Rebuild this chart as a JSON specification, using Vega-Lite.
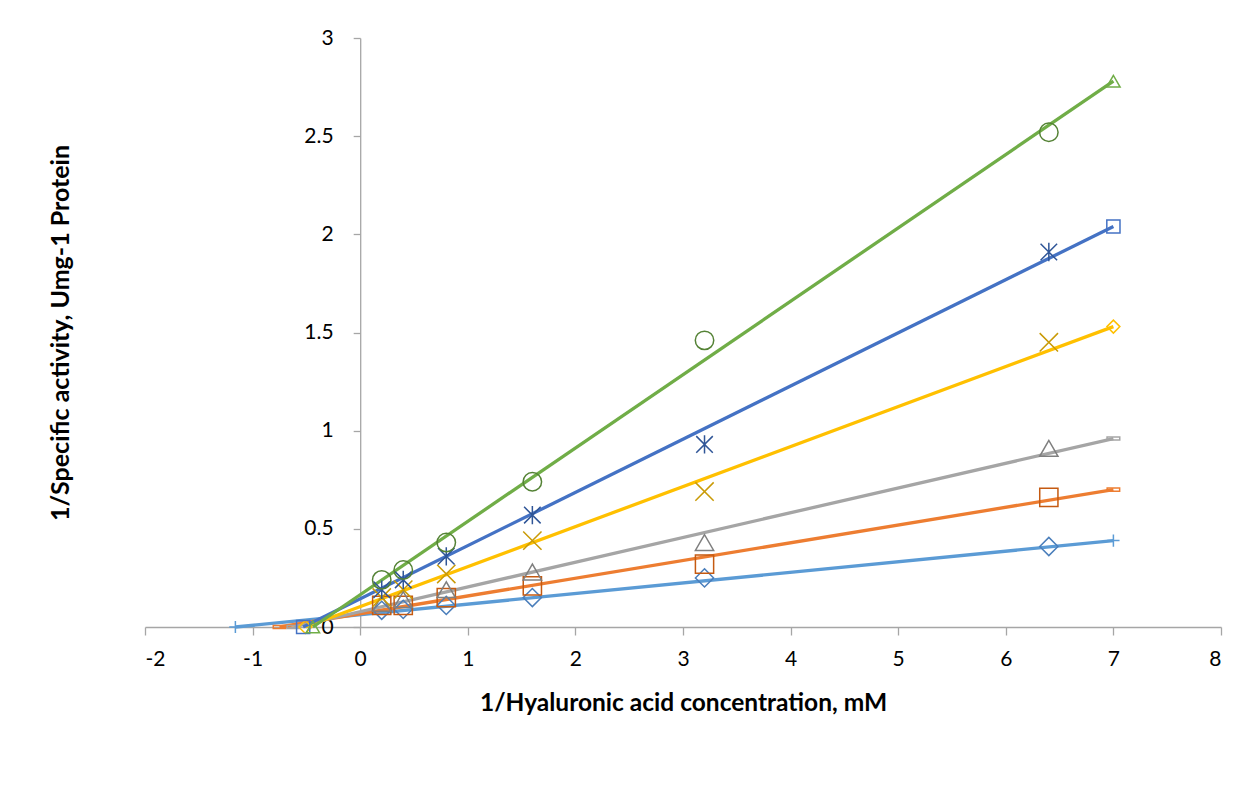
{
  "$schema": "https://vega.github.io/schema/vega-lite/v6.json",
  "autosize": "none",
  "width": 1076,
  "height": 589,
  "padding": {"left": 145, "top": 38, "right": 25, "bottom": 184},
  "background": "white",
  "config": {
    "view": {"stroke": null},
    "font": "Lato",
    "axis": {"labelFont": "Lato", "titleFont": "Lato", "labelColor": "#000000", "titleColor": "#000000"}
  },
  "datasets": {
    "points": [
      {"series": "s1", "x": 0.2, "y": 0.085}, {"series": "s1", "x": 0.4, "y": 0.09}, {"series": "s1", "x": 0.8, "y": 0.11}, {"series": "s1", "x": 1.6, "y": 0.15}, {"series": "s1", "x": 3.2, "y": 0.25}, {"series": "s1", "x": 6.4, "y": 0.41},
      {"series": "s2", "x": 0.2, "y": 0.11}, {"series": "s2", "x": 0.4, "y": 0.11}, {"series": "s2", "x": 0.8, "y": 0.15}, {"series": "s2", "x": 1.6, "y": 0.21}, {"series": "s2", "x": 3.2, "y": 0.32}, {"series": "s2", "x": 6.4, "y": 0.66},
      {"series": "s3", "x": 0.2, "y": 0.12}, {"series": "s3", "x": 0.4, "y": 0.14}, {"series": "s3", "x": 0.8, "y": 0.19}, {"series": "s3", "x": 1.6, "y": 0.28}, {"series": "s3", "x": 3.2, "y": 0.43}, {"series": "s3", "x": 6.4, "y": 0.91},
      {"series": "s4", "x": 0.2, "y": 0.15}, {"series": "s4", "x": 0.4, "y": 0.19}, {"series": "s4", "x": 0.8, "y": 0.27}, {"series": "s4", "x": 1.6, "y": 0.44}, {"series": "s4", "x": 3.2, "y": 0.69}, {"series": "s4", "x": 6.4, "y": 1.45},
      {"series": "s5", "x": 0.2, "y": 0.19}, {"series": "s5", "x": 0.4, "y": 0.24}, {"series": "s5", "x": 0.8, "y": 0.36}, {"series": "s5", "x": 1.6, "y": 0.57}, {"series": "s5", "x": 3.2, "y": 0.93}, {"series": "s5", "x": 6.4, "y": 1.91},
      {"series": "s6", "x": 0.2, "y": 0.24}, {"series": "s6", "x": 0.4, "y": 0.29}, {"series": "s6", "x": 0.8, "y": 0.43}, {"series": "s6", "x": 1.6, "y": 0.74}, {"series": "s6", "x": 3.2, "y": 1.46}, {"series": "s6", "x": 6.4, "y": 2.52}
    ],
    "lines": [
      {"series": "s1", "x": -1.16, "y": 0}, {"series": "s1", "x": 7, "y": 0.44},
      {"series": "s2", "x": -0.75, "y": 0}, {"series": "s2", "x": 7, "y": 0.70},
      {"series": "s3", "x": -0.62, "y": 0}, {"series": "s3", "x": 7, "y": 0.96},
      {"series": "s4", "x": -0.51, "y": 0}, {"series": "s4", "x": 7, "y": 1.53},
      {"series": "s5", "x": -0.53, "y": 0}, {"series": "s5", "x": 7, "y": 2.04},
      {"series": "s6", "x": -0.44, "y": 0}, {"series": "s6", "x": 7, "y": 2.78}
    ]
  },
  "encoding": {
    "x": {
      "field": "x", "type": "quantitative",
      "scale": {"domain": [-2, 8], "nice": false, "zero": false},
      "axis": {
        "values": [-2, -1, 0, 1, 2, 3, 4, 5, 6, 7, 8],
        "labelExpr": "datum.value < 0 ? '-' + abs(datum.value) : '' + datum.value",
        "grid": false,
        "domainColor": "#A6A6A6", "domainWidth": 1.3,
        "tickColor": "#A6A6A6", "tickWidth": 1.3, "tickSize": 8,
        "labelFontSize": 21, "labelPadding": 13,
        "title": "1/Hyaluronic acid concentration, mM",
        "titleFontSize": 24.5, "titleFontWeight": "bold",
        "titleBaseline": "middle", "titleY": 76, "titleX": 538
      }
    },
    "y": {
      "field": "y", "type": "quantitative",
      "scale": {"domain": [0, 3], "nice": false},
      "axis": {
        "offset": -215.2,
        "values": [0, 0.5, 1, 1.5, 2, 2.5, 3],
        "format": "~g",
        "grid": false,
        "domainColor": "#A6A6A6", "domainWidth": 1.3,
        "tickColor": "#A6A6A6", "tickWidth": 1.3, "tickSize": 7,
        "labelFontSize": 21, "labelPadding": 20,
        "title": "1/Specific activity, Umg-1 Protein",
        "titleFontSize": 25, "titleFontWeight": "bold",
        "titleAngle": -90, "titleBaseline": "middle", "titleAlign": "center",
        "titleX": -300, "titleY": 294.5
      }
    }
  },
  "layer": [
    {
      "data": {"name": "lines"},
      "mark": {"type": "line", "strokeWidth": 3.3},
      "encoding": {
        "detail": {"field": "series"},
        "color": {"field": "series", "type": "nominal", "legend": null,
          "scale": {"domain": ["s1", "s2", "s3", "s4", "s5", "s6"], "range": ["#5B9BD5", "#ED7D31", "#A5A5A5", "#FFC000", "#4472C4", "#70AD47"]}}
      }
    },
    {
      "data": {"name": "lines"},
      "mark": {"type": "point", "filled": false, "strokeWidth": 1.5, "opacity": 1},
      "encoding": {
        "color": {"field": "series", "type": "nominal", "legend": null,
          "scale": {"domain": ["s1", "s2", "s3", "s4", "s5", "s6"], "range": ["#5B9BD5", "#ED7D31", "#A5A5A5", "#FFC000", "#4472C4", "#70AD47"]}},
        "shape": {"field": "series", "type": "nominal", "legend": null,
          "scale": {"domain": ["s1", "s2", "s3", "s4", "s5", "s6"], "range": ["M-1,0L1,0M0,-1L0,1", "M-1,-0.25L1,-0.25L1,0.25L-1,0.25Z", "M-1,-0.25L1,-0.25L1,0.25L-1,0.25Z", "diamond", "square", "triangle-up"]}},
        "size": {"field": "series", "type": "nominal", "legend": null,
          "scale": {"domain": ["s1", "s2", "s3", "s4", "s5", "s6"], "range": [150, 180, 180, 190, 180, 270]}}
      }
    },
    {
      "data": {"name": "points"},
      "mark": {"type": "point", "filled": false, "strokeWidth": 1.5, "opacity": 1},
      "encoding": {
        "color": {"field": "series", "type": "nominal", "legend": null,
          "scale": {"domain": ["s1", "s2", "s3", "s4", "s5", "s6"], "range": ["#4A7EBB", "#C55A11", "#7F7F7F", "#C99A06", "#2F5597", "#548235"]}},
        "shape": {"field": "series", "type": "nominal", "legend": null,
          "scale": {"domain": ["s1", "s2", "s3", "s4", "s5", "s6"], "range": ["diamond", "square", "triangle-up", "M-1,-1L1,1M-1,1L1,-1", "M0,-1L0,1M-0.9,-0.9L0.9,0.9M-0.9,0.9L0.9,-0.9", "circle"]}},
        "size": {"field": "series", "type": "nominal", "legend": null,
          "scale": {"domain": ["s1", "s2", "s3", "s4", "s5", "s6"], "range": [330, 340, 380, 330, 340, 290]}}
      }
    }
  ],
  "resolve": {"scale": {"color": "independent", "shape": "independent", "size": "independent"}}
}
